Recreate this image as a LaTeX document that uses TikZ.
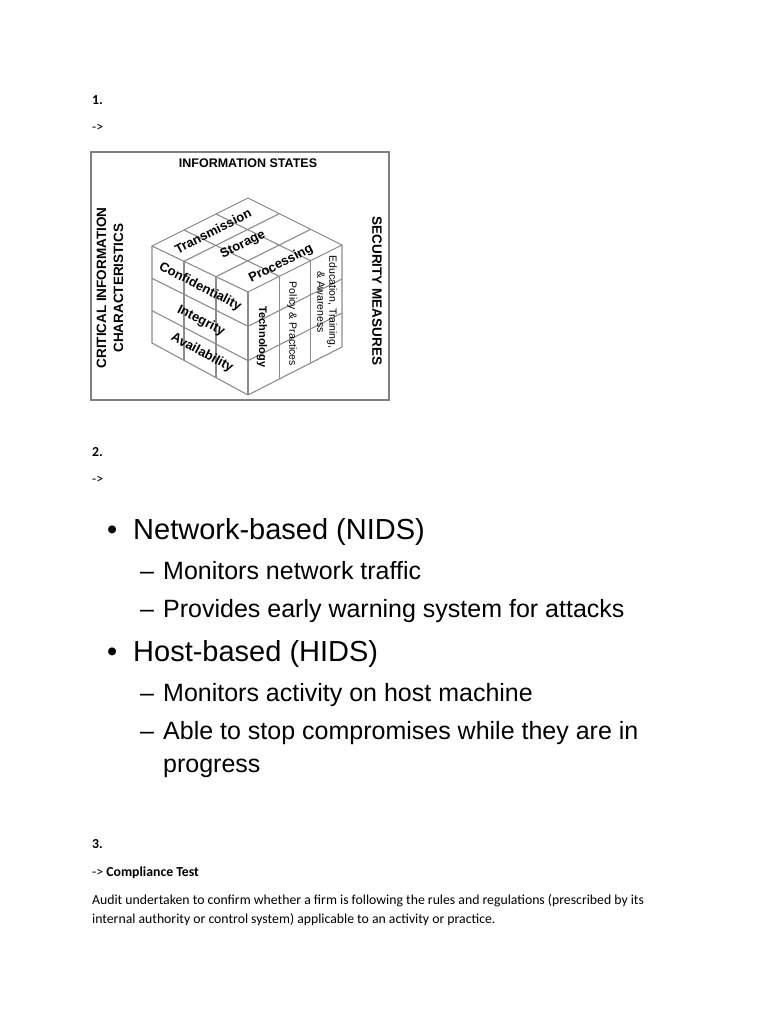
\documentclass[tikz,border=0pt]{standalone}
\usepackage{fontspec}
\setmainfont{Carlito}
\newfontfamily\arial{Liberation Sans}
\usetikzlibrary{calc}
\tikzset{
  doc/.style={anchor=base west, inner sep=0pt, font=\fontsize{13.75}{16}\selectfont},
  docb/.style={doc, font=\fontsize{13.75}{16}\selectfont\bfseries},
  bigl/.style={anchor=base west, inner sep=0pt, font=\arial\fontsize{29}{34}\selectfont},
  subl/.style={anchor=base west, inner sep=0pt, font=\arial\fontsize{25}{30}\selectfont},
  cubeline/.style={draw=black!45, line width=1.1pt, line join=round},
  boxline/.style={draw=black!50, line width=1.4pt},
  clbl/.style={inner sep=0pt, font=\arial\bfseries\fontsize{13}{15}\selectfont},
  rlbl/.style={inner sep=0pt, rotate=-90, font=\arial\fontsize{10.5}{12}\selectfont},
  title/.style={inner sep=0pt, font=\arial\bfseries\fontsize{12.5}{15}\selectfont},
  side/.style={inner sep=0pt, align=center, font=\arial\bfseries\fontsize{13.5}{17}\selectfont}
}
\begin{document}
\begin{tikzpicture}[x=1pt,y=-1pt]
\useasboundingbox[fill=white] (0,0) rectangle (768,1024);

% ---- section 1
\node[docb] (n1) at (92,105) {1.};
\node[doc] (a1) at (92,132) {->};

\draw[boxline] (91,152) rectangle (389,400);
\node[title] (is) at (248,163) {INFORMATION STATES};
\node[side, rotate=90] (cic) at (110,288) {CRITICAL INFORMATION\\CHARACTERISTICS};
\node[side, rotate=-90] (sm) at (377,291) {SECURITY MEASURES};

% cube vertices
\coordinate (B) at (248,198);
\coordinate (L) at (152,246);
\coordinate (R) at (342,245);
\coordinate (F) at (248,292);
\coordinate (Lb) at (152,343);
\coordinate (Rb) at (342,347);
\coordinate (Fb) at (248,395);

\foreach \t in {0.3333,0.6667}{
  \draw[cubeline] ($(L)!\t!(F)$) -- ($(B)!\t!(R)$);
  \draw[cubeline] ($(L)!\t!(B)$) -- ($(F)!\t!(R)$);
  \draw[cubeline] ($(L)!\t!(Lb)$) -- ($(F)!\t!(Fb)$);
  \draw[cubeline] ($(L)!\t!(F)$) -- ($(Lb)!\t!(Fb)$);
  \draw[cubeline] ($(F)!\t!(Fb)$) -- ($(R)!\t!(Rb)$);
  \draw[cubeline] ($(F)!\t!(R)$) -- ($(Fb)!\t!(Rb)$);
}
\draw[cubeline] (L) -- (B) -- (R) -- (F) -- cycle;
\draw[cubeline] (L) -- (Lb) -- (Fb) -- (Rb) -- (R);
\draw[cubeline] (F) -- (Fb);

\node[clbl, rotate=27] (tr) at (213,231) {Transmission};
\node[clbl, rotate=27] (st) at (243,245) {Storage};
\node[clbl, rotate=27] (pr) at (281,264) {Processing};
\node[clbl, rotate=-27] (co) at (200,287) {Confidentiality};
\node[clbl, rotate=-27] (in) at (201,321) {Integrity};
\node[clbl, rotate=-28] (av) at (202,353) {Availability};
\node[rlbl, font=\arial\bfseries\fontsize{11}{13}\selectfont] (te) at (262,337) {Technology};
\node[rlbl] (pp) at (292,324) {Policy \& Practices};
\node[rlbl, align=center] (ed) at (327,302) {Education, Training,\\\& Awareness};

% ---- section 2
\node[docb] (n2) at (92,456) {2.};
\node[doc] (a2) at (92,483) {->};

\node[bigl] (b1) at (107,539) {\textbullet};
\node[bigl] (t1) at (133,539) {Network-based (NIDS)};
\node[subl] (d1) at (140,579) {\textendash};
\node[subl] (t2) at (163,579) {Monitors network traffic};
\node[subl] (d2) at (140,617) {\textendash};
\node[subl] (t3) at (163,617) {Provides early warning system for attacks};
\node[bigl] (b2) at (107,661) {\textbullet};
\node[bigl] (t4) at (133,661) {Host-based (HIDS)};
\node[subl] (d3) at (140,701) {\textendash};
\node[subl] (t5) at (163,701) {Monitors activity on host machine};
\node[subl] (d4) at (140,739) {\textendash};
\node[subl] (t6) at (163,739) {Able to stop compromises while they are in};
\node[subl] (t7) at (163,772) {progress};

% ---- section 3
\node[docb] (n3) at (92,848) {3.};
\node[doc] (a3) at (92,876) {-> \textbf{Compliance Test}};
\node[doc] (p1) at (92,904) {Audit undertaken to confirm whether a firm is following the rules and regulations (prescribed by its};
\node[doc] (p2) at (92,923) {internal authority or control system) applicable to an activity or practice.};
\end{tikzpicture}
\end{document}
